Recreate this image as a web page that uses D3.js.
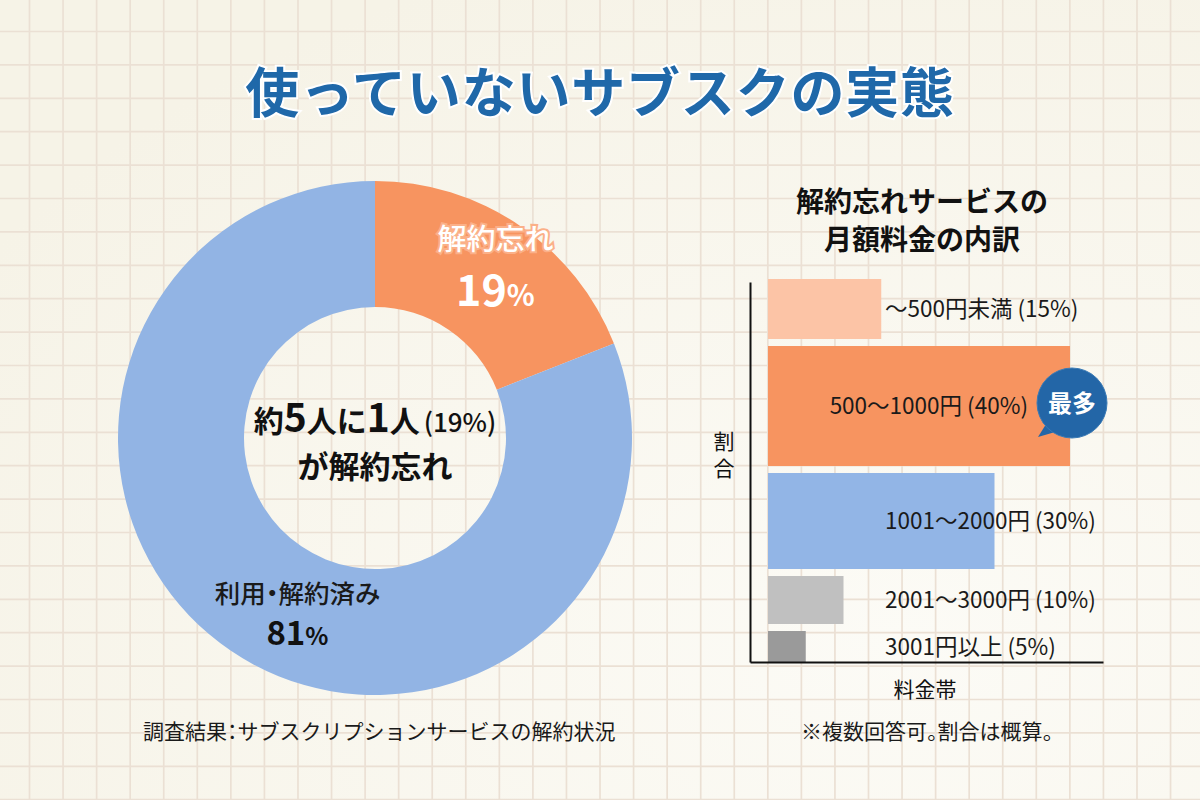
<!DOCTYPE html>
<html><head><meta charset="utf-8">
<script src="https://cdn.jsdelivr.net/npm/d3@7/dist/d3.min.js"></script>
<style>
html,body{margin:0;padding:0;background:#f8f6ec;}
svg{display:block;font-family:"Noto Sans CJK JP","Noto Sans",sans-serif;}
.palt{font-feature-settings:"palt";}
</style></head>
<body>
<svg id="c" width="1200" height="800"></svg>
<script>
// ---- data ----
const title = "使っていないサブスクの実態";
const donutCategories = ["解約忘れ", "利用・解約済み"];
const donutValues = [19, 81];
const donutColors = ["#f79460", "#92b4e4"];
const barCategories = ["〜500円未満", "500〜1000円", "1001〜2000円", "2001〜3000円", "3001円以上"];
const barValues = [15, 40, 30, 10, 5];
const barColors = ["#fcc4a6", "#f79460", "#92b5e6", "#c0c0c0", "#9a9a9a"];
const barTitle = ["解約忘れサービスの", "月額料金の内訳"];
const yAxisLabel = "割合";
const xAxisLabel = "料金帯";
const badgeText = "最多";
const noteLeft = ["調査結果", "：", "サブスクリプションサービスの解約状況"];
const noteRight = ["※複数回答可", "。", "割合は概算", "。"];

const svg = d3.select("#c");
const W = 1200, H = 800;

// background
const defs = svg.append("defs");
const rg = defs.append("radialGradient").attr("id","bg").attr("cx","75%").attr("cy","80%").attr("r","90%");
rg.append("stop").attr("offset","0%").attr("stop-color","#fcfbf6");
rg.append("stop").attr("offset","100%").attr("stop-color","#f6f3e7");
svg.append("rect").attr("width",W).attr("height",H).attr("fill","url(#bg)");

// grid
const grid = svg.append("g").attr("stroke","#ebe0d4").attr("stroke-width",1.7);
grid.selectAll("line.v").data(d3.range(29.5, W, 33.56)).join("line")
  .attr("x1",d=>d).attr("x2",d=>d).attr("y1",0).attr("y2",H);
grid.selectAll("line.h").data(d3.range(31.5 - 33.4, H, 33.4)).join("line")
  .attr("y1",d=>d).attr("y2",d=>d).attr("x1",0).attr("x2",W);

// title
svg.append("text").attr("x",600).attr("y",113).attr("text-anchor","middle")
  .attr("font-size",54).attr("font-weight",700).attr("fill","#1f68a9")
  .attr("stroke","#ffffff").attr("stroke-width",4).attr("paint-order","stroke")
  .attr("letter-spacing",0.8)
  .text(title);

// ---- donut ----
const cx = 375, cy = 438, rOut = 257, rIn = 131;
const pie = d3.pie().sort(null).value(d=>d)(donutValues);
const arc = d3.arc().innerRadius(rIn).outerRadius(rOut);
const dg = svg.append("g").attr("transform",`translate(${cx},${cy})`);
dg.selectAll("path").data(pie).join("path").attr("d",arc).attr("fill",(d,i)=>donutColors[i]);

const labelArc = d3.arc().innerRadius(200).outerRadius(200);
// orange label
{
  const c = labelArc.centroid(pie[0]);
  const g = dg.append("g").attr("transform",`translate(${c[0]+8},${c[1]-4})`);
  g.append("text").attr("text-anchor","middle").attr("y",-19)
    .attr("font-size",29).attr("font-weight",500).attr("fill","#ffffff")
    .attr("stroke","#fbb088").attr("stroke-width",4).attr("paint-order","stroke")
    .text(donutCategories[0]);
  const t = g.append("text").attr("text-anchor","middle").attr("y",37)
    .attr("font-weight",700).attr("fill","#ffffff");
  t.append("tspan").attr("font-size",43).text(donutValues[0]);
  t.append("tspan").attr("font-size",29).text("%");
}
// blue label
{
  const ang = pie[1].startAngle*0.536 + pie[1].endAngle*0.464;
  const r = 193;
  const x = Math.sin(ang)*r, y = -Math.cos(ang)*r;
  const g = dg.append("g").attr("transform",`translate(${x},${y})`);
  g.append("text").attr("class","palt").attr("text-anchor","middle").attr("y",-12)
    .attr("font-size",25.5).attr("font-weight",500).attr("fill","#1a1a1a")
    .text(donutCategories[1]);
  const t = g.append("text").attr("text-anchor","middle").attr("y",30)
    .attr("font-weight",700).attr("fill","#111");
  t.append("tspan").attr("font-size",33).text(donutValues[1]);
  t.append("tspan").attr("font-size",24).text("%");
}
// center text
{
  const t1 = dg.append("text").attr("text-anchor","middle").attr("y",-6)
    .attr("font-weight",700).attr("fill","#111");
  const share = Math.round(100/donutValues[0]);
  t1.append("tspan").attr("font-size",30).text("約");
  t1.append("tspan").attr("font-size",39).text(share);
  t1.append("tspan").attr("font-size",30).text("人に");
  t1.append("tspan").attr("font-size",39).text("1");
  t1.append("tspan").attr("font-size",30).text("人");
  t1.append("tspan").attr("font-size",26).attr("font-weight",500).attr("dx",4).text(`(${donutValues[0]}%)`);
  dg.append("text").attr("text-anchor","middle").attr("y",40)
    .attr("font-size",31).attr("font-weight",700).attr("fill","#111")
    .text("が" + donutCategories[0]);
}

// ---- bar chart ----
svg.append("g").selectAll("text").data(barTitle).join("text")
  .attr("x",922).attr("y",(d,i)=>212+i*38).attr("text-anchor","middle")
  .attr("font-size",28).attr("font-weight",700).attr("fill","#111").text(d=>d);

const x0 = 768, axisX = 750, axisY = 662;
const xScale = d3.scaleLinear().domain([0, 40]).range([x0, 1070]);
const hScale = d3.scaleLinear().domain([0, 40]).range([24, 120]);
const gap = 7, top0 = 279;
let acc = top0;
const bars = barValues.map((v,i)=>{
  const h = hScale(v);
  const b = {cat:barCategories[i], v, y:acc, h, color:barColors[i]};
  acc += h + gap;
  return b;
});
const yScale = d3.scaleLinear().domain([0,1]).range([axisY, 282]);

const bg = svg.append("g");
bg.selectAll("rect").data(bars).join("rect")
  .attr("x",x0).attr("y",d=>d.y).attr("width",d=>xScale(d.v)-x0).attr("height",d=>Math.min(d.h, axisY-d.y))
  .attr("fill",d=>d.color);

// axes
const yAxis = d3.axisLeft(yScale).tickValues([]).tickSizeOuter(0);
const ya = svg.append("g").attr("transform",`translate(${axisX},0)`).call(yAxis);
ya.select(".domain").attr("stroke","#111").attr("stroke-width",2);
const xAxisScale = d3.scaleLinear().domain([0,1]).range([axisX, 1103]);
const xAxis = d3.axisBottom(xAxisScale).tickValues([]).tickSizeOuter(0);
const xa = svg.append("g").attr("transform",`translate(0,${axisY})`).call(xAxis);
xa.select(".domain").attr("stroke","#111").attr("stroke-width",2);

// bar labels
const maxV = d3.max(barValues);
bg.selectAll("text").data(bars).join("text")
  .attr("x",d=> d.v===maxV ? xScale(d.v)-42 : 885)
  .attr("text-anchor",d=> d.v===maxV ? "end" : "start")
  .attr("y",d=>d.y + Math.min(d.h, axisY-d.y)/2 + 8)
  .attr("font-size",22.5).attr("fill","#1a1a1a")
  .text(d=>`${d.cat} (${d.v}%)`);

// badge
{
  const mb = bars.find(d=>d.v===maxV);
  const bx = xScale(maxV)+2, by = mb.y + mb.h/2 - 3, r = 35;
  const g = svg.append("g").attr("transform",`translate(${bx},${by})`);
  g.append("path").attr("d",`M${-24},${18} L${-34},${34} L${-10},${27} Z`).attr("fill","#2366a7");
  g.append("circle").attr("r",r).attr("fill","#2366a7").attr("stroke","#3a7ab5").attr("stroke-width",1);
  g.append("text").attr("text-anchor","middle").attr("y",9).attr("font-size",24)
    .attr("font-weight",700).attr("fill","#fff").text(badgeText);
}

// axis labels
svg.append("text").attr("x",724).attr("y",431)
  .attr("writing-mode","tb").attr("glyph-orientation-vertical",0)
  .attr("letter-spacing",6)
  .attr("font-size",21).attr("fill","#111").text(yAxisLabel);
svg.append("text").attr("x",925).attr("y",697).attr("text-anchor","middle")
  .attr("font-size",21).attr("fill","#111").text(xAxisLabel);

// notes
{
  const t = svg.append("text").attr("x",143).attr("y",739).attr("font-size",21).attr("fill","#1a1a1a");
  t.selectAll("tspan").data(noteLeft).join("tspan").attr("class",(d,i)=>i===1?"palt":null).text(d=>d);
  const t2 = svg.append("text").attr("x",927).attr("y",739).attr("text-anchor","middle").attr("font-size",21).attr("fill","#1a1a1a");
  t2.selectAll("tspan").data(noteRight).join("tspan").attr("class",(d,i)=>i%2===1?"palt":null).text(d=>d);
}
</script>
</body></html>
